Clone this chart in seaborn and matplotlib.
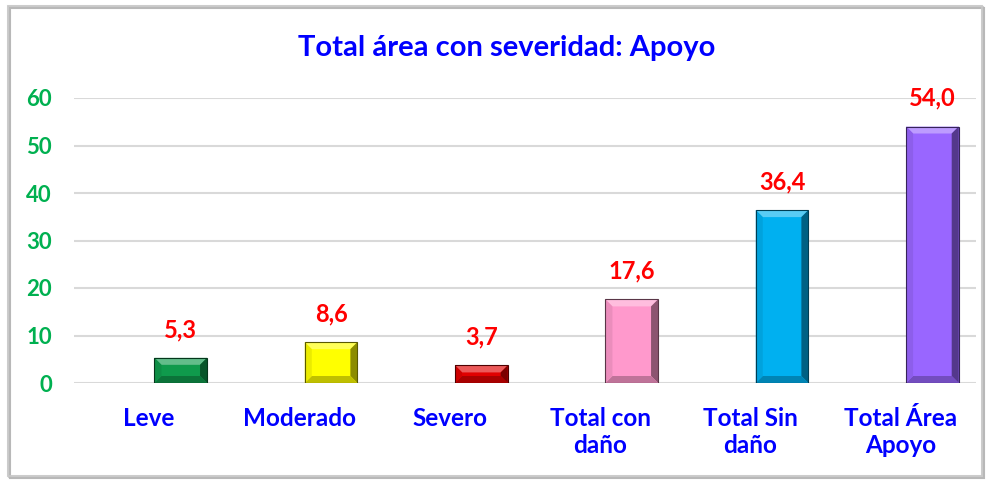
import matplotlib
matplotlib.use("Agg")
import matplotlib.pyplot as plt
import matplotlib.colors as mcolors
from matplotlib.patches import Polygon, Rectangle
import seaborn as sns
import pandas as pd
import numpy as np

# datos del gráfico
categorias = ["Leve", "Moderado", "Severo", "Total con\ndaño", "Total Sin\ndaño", "Total Área\nApoyo"]
valores = [5.3, 8.6, 3.7, 17.6, 36.4, 54.0]
colores = ["#0f9a4c", "#ffff00", "#e00000", "#ff99cc", "#00b0f0", "#9966ff"]
ticks_y = [0, 10, 20, 30, 40, 50, 60]

df = pd.DataFrame({"cat": categorias, "val": valores})

sns.set_theme(style="white")
plt.rcParams["font.family"] = ["Lato", "DejaVu Sans"]

fig = plt.figure(figsize=(9.95, 4.8), dpi=100)
ax = fig.add_axes([74 / 995, 1 - 383 / 480, (976 - 74) / 995, (383 - 98) / 480])

sns.barplot(data=df, x="cat", y="val", hue="cat", palette=colores, legend=False,
            width=0.35, saturation=1, ax=ax, edgecolor="none", linewidth=0)

# en el original las barras están desplazadas a la derecha de la etiqueta
for bar in ax.patches:
    bar.set_x(bar.get_x() + 0.21)

ax.set_xlim(-0.5, len(categorias) - 0.5)
ax.set_ylim(0, 60)
ax.set_yticks(ticks_y)
ax.set_yticklabels([str(t) for t in ticks_y], color="#00b050", fontweight="bold", fontsize=16)
ax.tick_params(axis="y", length=0, pad=16)
ax.tick_params(axis="x", length=0, pad=17)
for lab in ax.get_xticklabels():
    lab.set_color("#0000ff")
    lab.set_fontweight("bold")
    lab.set_fontsize(17.5)
    lab.set_linespacing(1.25)
ax.set_xlabel("")
ax.set_ylabel("")
ax.yaxis.grid(True, color="#d9d9d9", linewidth=1.5)
ax.set_axisbelow(True)
for s in ax.spines.values():
    s.set_visible(False)

ax.set_title("Total área con severidad: Apoyo", color="#0000ff", fontweight="bold",
             fontsize=21, pad=30, x=0.48)

# efecto biselado sobre las barras
fig.canvas.draw()
inv = ax.transData.inverted()
d = 7
for bar, c in zip(list(ax.patches), colores):
    x0, y0 = ax.transData.transform((bar.get_x(), 0))
    x1, y1 = ax.transData.transform((bar.get_x() + bar.get_width(), bar.get_height()))
    base = np.array(mcolors.to_rgb(c))
    light = base + (1 - base) * 0.35
    dark = base * 0.55
    darker = base * 0.35
    dd = min(d, (y1 - y0) / 2)
    caras = [
        ([(x0, y1), (x1, y1), (x1 - d, y1 - dd), (x0 + d, y1 - dd)], light),
        ([(x1, y1), (x1, y0), (x1 - d, y0 + dd), (x1 - d, y1 - dd)], dark),
        ([(x0, y0), (x1, y0), (x1 - d, y0 + dd), (x0 + d, y0 + dd)], base * 0.75),
        ([(x0, y0), (x0, y1), (x0 + d, y1 - dd), (x0 + d, y0 + dd)], base * 0.92),
    ]
    for pts, col in caras:
        ax.add_patch(Polygon(inv.transform(pts), closed=True, facecolor=np.clip(col, 0, 1),
                             edgecolor="none", zorder=3))
    ax.add_patch(Rectangle((bar.get_x(), 0), bar.get_width(), bar.get_height(), fill=False,
                           edgecolor=np.clip(darker, 0, 1), linewidth=0.8, zorder=4))
    ax.annotate(f"{bar.get_height():.1f}".replace(".", ","),
                (bar.get_x() + bar.get_width() / 2, bar.get_height()),
                xytext=(0, 12), textcoords="offset points", ha="center", va="bottom",
                color="#ff0000", fontweight="bold", fontsize=17)

# marco con sombra
for i, g in enumerate(["#e6e6e6", "#cfcfcf", "#b8b8b8"]):
    fig.add_artist(Rectangle((8 / 995 + i * 0.0012, 4 / 480 - i * 0.0025),
                             (982 - 8) / 995, (474 - 4) / 480, transform=fig.transFigure,
                             fill=False, edgecolor=g, linewidth=1.5, zorder=0))
fig.add_artist(Rectangle((8 / 995, 4 / 480), (982 - 8) / 995, (474 - 4) / 480,
                         transform=fig.transFigure, fill=False, edgecolor="#c8c8c8",
                         linewidth=1.2, zorder=1))

fig.savefig("out.png", dpi=100)
